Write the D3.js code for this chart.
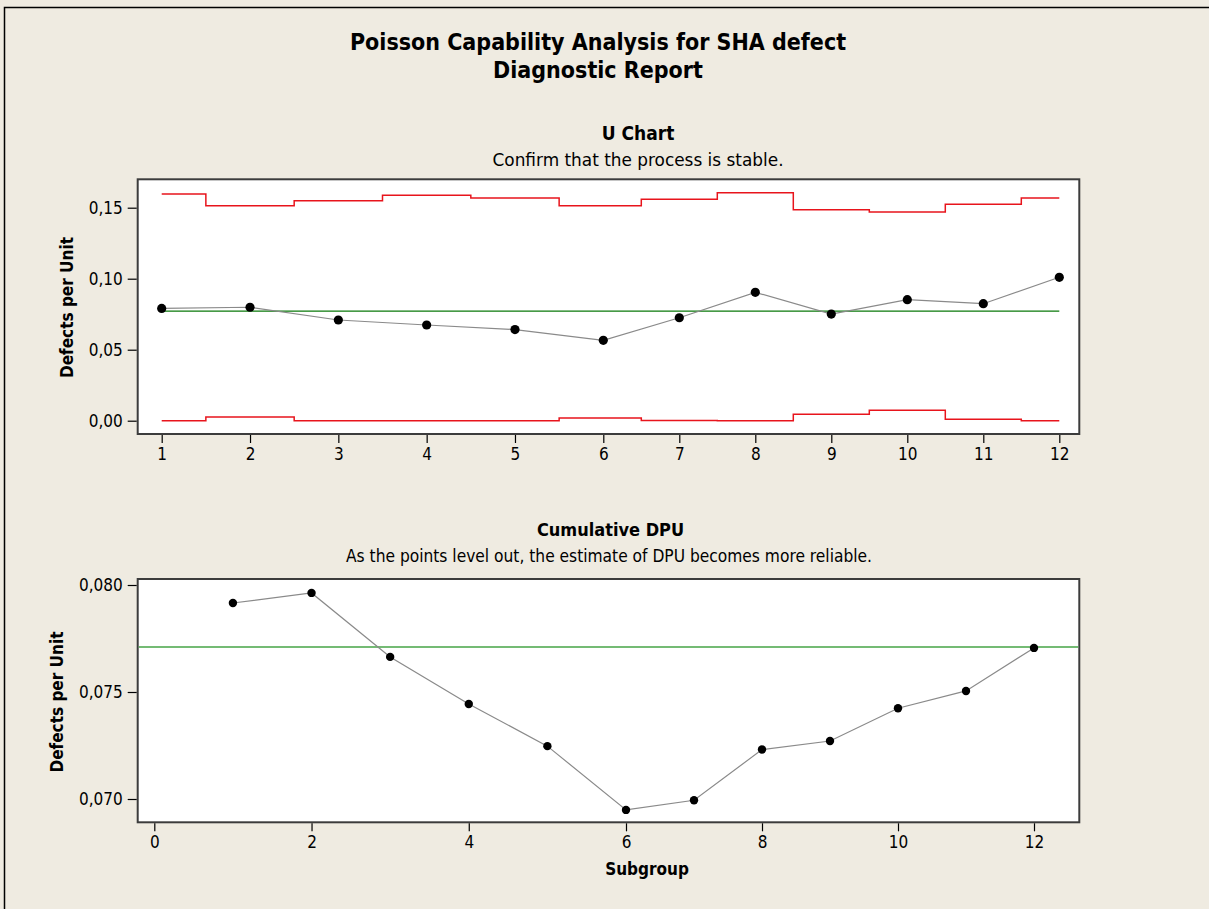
<!DOCTYPE html>
<html>
<head>
<meta charset="utf-8">
<script src="https://cdnjs.cloudflare.com/ajax/libs/d3/7.8.5/d3.min.js"></script>
<style>
  html, body { margin: 0; padding: 0; background: #efebe1; }
  svg { display: block; }
  text { font-family: "DejaVu Sans Condensed", "DejaVu Sans", sans-serif; fill: #000; }
</style>
</head>
<body>
<script>
// data
var subgroups = [1, 2, 3, 4, 5, 6, 7, 8, 9, 10, 11, 12];
var dpu = [0.0791, 0.0799, 0.0709, 0.0674, 0.0642, 0.0566, 0.0725, 0.0904, 0.0751, 0.0852, 0.0824, 0.1010];
var ucl = [0.1596, 0.1514, 0.1549, 0.1587, 0.1568, 0.1514, 0.1559, 0.1606, 0.1486, 0.1470, 0.1524, 0.1568];
var lcl = [0.0000, 0.0026, 0.0000, 0.0000, 0.0000, 0.0019, 0.0002, 0.0000, 0.0045, 0.0073, 0.0010, 0.0000];
var meanDpu = 0.0771;
var cumDpu = [0.07916, 0.07963, 0.07664, 0.07444, 0.07247, 0.06949, 0.06994, 0.07231, 0.07271, 0.07424, 0.07505, 0.07706];
var uTicksY = [0, 0.05, 0.10, 0.15];
var uTicksX = subgroups;
var cTicksY = [0.070, 0.075, 0.080];
var cTicksX = [0, 2, 4, 6, 8, 10, 12];

var W = 1209, H = 909;
var fmt2 = function (v) { return d3.format(".2f")(v).replace(".", ","); };
var fmt3 = function (v) { return d3.format(".3f")(v).replace(".", ","); };

var svg = d3.select("body").append("svg")
    .attr("width", W)
    .attr("height", H);

// outer frame
svg.append("rect")
    .attr("x", 4.5).attr("y", 7.5)
    .attr("width", W + 10).attr("height", H + 10)
    .attr("fill", "#efebe1")
    .attr("stroke", "#000")
    .attr("stroke-width", 1.5);

svg.append("text")
    .attr("x", 598).attr("y", 50)
    .attr("text-anchor", "middle")
    .style("font-size", "23px").style("font-weight", "bold")
    .text("Poisson Capability Analysis for SHA defect");
svg.append("text")
    .attr("x", 598).attr("y", 78)
    .attr("text-anchor", "middle")
    .style("font-size", "23px").style("font-weight", "bold")
    .text("Diagnostic Report");

// ---------- U chart ----------
var plotL = 137.7, plotR = 1079.3;
var u = { top: 179.3, bottom: 434 };

var xU = d3.scaleLinear().domain([1, 6, 12]).range([161.7, 603.3, 1059.3]);
var yU = d3.scaleLinear().domain([0, 0.15]).range([420.7, 207.7]);

function panel(top, bottom) {
    svg.append("rect")
        .attr("x", plotL).attr("y", top)
        .attr("width", plotR - plotL).attr("height", bottom - top)
        .attr("fill", "#fff")
        .attr("stroke", "#3c3c3c")
        .attr("stroke-width", 2);
}

function axes(x, y, top, bottom, xt, yt, yfmt) {
    var xa = svg.append("g")
        .attr("transform", "translate(0," + (bottom + 1) + ")")
        .call(d3.axisBottom(x).tickValues(xt).tickSize(8).tickPadding(5).tickFormat(d3.format("d")));
    var ya = svg.append("g")
        .attr("transform", "translate(" + (plotL - 1) + ",0)")
        .call(d3.axisLeft(y).tickValues(yt).tickSize(9).tickPadding(5).tickFormat(yfmt));
    [xa, ya].forEach(function (g) {
        g.select(".domain").remove();
        g.selectAll("line").attr("stroke", "#000").attr("stroke-width", 1.2);
        g.selectAll("text").style("font-size", "17px").attr("font-family", null);
    });
}

panel(u.top, u.bottom);
axes(xU, yU, u.top, u.bottom, uTicksX, uTicksY, fmt2);

var step = d3.line()
    .x(function (d, i) { return xU(subgroups[i]); })
    .y(function (d) { return yU(d); })
    .curve(d3.curveStep);

svg.append("path").datum(ucl)
    .attr("d", step).attr("fill", "none")
    .attr("stroke", "#e8141c").attr("stroke-width", 1.5);
svg.append("path").datum(lcl)
    .attr("d", step).attr("fill", "none")
    .attr("stroke", "#e8141c").attr("stroke-width", 1.5);

svg.append("line")
    .attr("x1", xU(1)).attr("x2", xU(12))
    .attr("y1", yU(meanDpu)).attr("y2", yU(meanDpu))
    .attr("stroke", "#0a780a").attr("stroke-width", 1.3);

var lineU = d3.line()
    .x(function (d, i) { return xU(subgroups[i]); })
    .y(function (d) { return yU(d); });

svg.append("path").datum(dpu)
    .attr("d", lineU).attr("fill", "none")
    .attr("stroke", "#8a8a8a").attr("stroke-width", 1.2);
svg.selectAll(".ptU").data(dpu).enter().append("circle")
    .attr("cx", function (d, i) { return xU(subgroups[i]); })
    .attr("cy", function (d) { return yU(d); })
    .attr("r", 4.6)
    .attr("fill", "#000");

svg.append("text")
    .attr("x", 638).attr("y", 140)
    .attr("text-anchor", "middle")
    .style("font-size", "19px").style("font-weight", "bold")
    .text("U Chart");
svg.append("text")
    .attr("x", 638).attr("y", 165.7)
    .attr("text-anchor", "middle")
    .attr("textLength", 291).attr("lengthAdjust", "spacingAndGlyphs")
    .style("font-size", "18.5px")
    .text("Confirm that the process is stable.");
svg.append("text")
    .attr("transform", "translate(73,307.5) rotate(-90)")
    .attr("text-anchor", "middle")
    .style("font-size", "17px").style("font-weight", "bold")
    .text("Defects per Unit");

// ---------- Cumulative DPU ----------
var c = { top: 579, bottom: 822.3 };
var xC = d3.scaleLinear().domain([0, 6, 12]).range([154.3, 626, 1034]);
var yC = d3.scaleLinear().domain([0.070, 0.080]).range([799, 585]);

panel(c.top, c.bottom);
axes(xC, yC, c.top, c.bottom, cTicksX, cTicksY, fmt3);

svg.append("line")
    .attr("x1", plotL + 1).attr("x2", plotR - 1)
    .attr("y1", yC(meanDpu)).attr("y2", yC(meanDpu))
    .attr("stroke", "#46a546").attr("stroke-width", 1.6);

var lineC = d3.line()
    .x(function (d, i) { return xC(subgroups[i]); })
    .y(function (d) { return yC(d); });

svg.append("path").datum(cumDpu)
    .attr("d", lineC).attr("fill", "none")
    .attr("stroke", "#8a8a8a").attr("stroke-width", 1.2);
svg.selectAll(".ptC").data(cumDpu).enter().append("circle")
    .attr("cx", function (d, i) { return xC(subgroups[i]); })
    .attr("cy", function (d) { return yC(d); })
    .attr("r", 4.2)
    .attr("fill", "#000");

svg.append("text")
    .attr("x", 610.5).attr("y", 535.7)
    .attr("text-anchor", "middle")
    .style("font-size", "18px").style("font-weight", "bold")
    .text("Cumulative DPU");
svg.append("text")
    .attr("x", 609).attr("y", 561.7)
    .attr("text-anchor", "middle")
    .attr("textLength", 526).attr("lengthAdjust", "spacingAndGlyphs")
    .style("font-size", "18px")
    .text("As the points level out, the estimate of DPU becomes more reliable.");
svg.append("text")
    .attr("transform", "translate(63,702) rotate(-90)")
    .attr("text-anchor", "middle")
    .style("font-size", "17px").style("font-weight", "bold")
    .text("Defects per Unit");
svg.append("text")
    .attr("x", 647).attr("y", 875)
    .attr("text-anchor", "middle")
    .style("font-size", "17px").style("font-weight", "bold")
    .text("Subgroup");
</script>
</body>
</html>
